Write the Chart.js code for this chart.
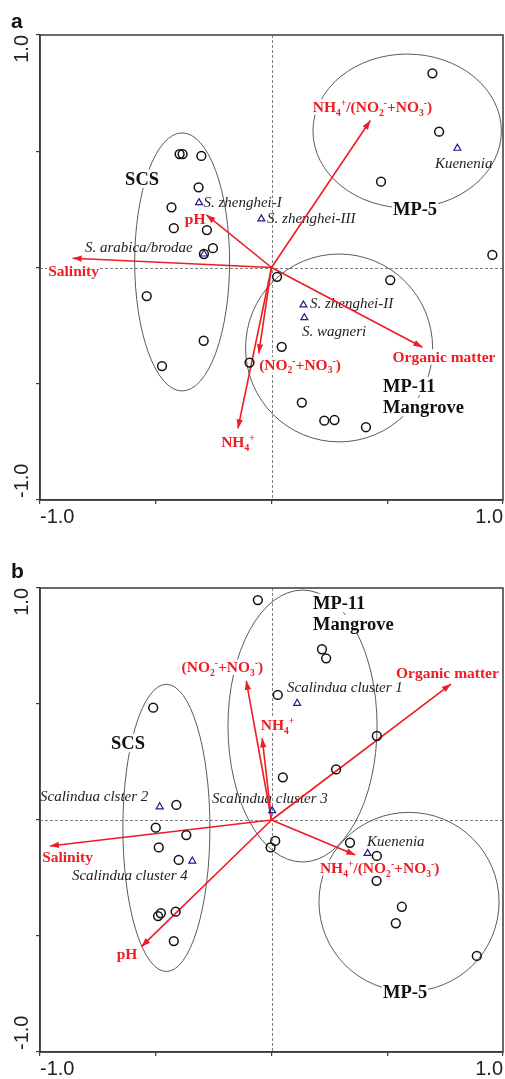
<!DOCTYPE html>
<html><head><meta charset="utf-8">
<script src="https://cdn.jsdelivr.net/npm/chart.js@4.4.0/dist/chart.umd.min.js"></script>
<style>
html,body{margin:0;padding:0;background:#fff;overflow:hidden;width:505px;height:1079px;}
#wrapA{position:absolute;left:0;top:0;width:505px;height:535px;}
#wrapB{position:absolute;left:0;top:553px;width:505px;height:534px;}
canvas{display:block;}
</style></head><body>
<div id="wrapA"><canvas id="cA" width="505" height="535"></canvas></div>
<div id="wrapB"><canvas id="cB" width="505" height="534"></canvas></div>
<script>
// ---------------- DATA ----------------
const tickLabels = ['-1.0', '1.0'];

// Panel a
const aSamples = [[0.695,0.835],[0.724,0.584],[0.473,0.369],[-0.397,0.488],[-0.384,0.488],[-0.303,0.480],[-0.315,0.345],[-0.432,0.259],[-0.422,0.169],[-0.279,0.161],[-0.253,0.083],[-0.292,0.058],[0.954,0.054],[0.024,-0.040],[0.513,-0.054],[-0.539,-0.123],[-0.293,-0.315],[-0.473,-0.424],[0.044,-0.341],[-0.095,-0.409],[0.131,-0.581],[0.228,-0.659],[0.272,-0.656],[0.408,-0.687]];
const aSpeciesNames = ['S. zhenghei-I','S. zhenghei-III','Kuenenia','S. arabica/brodae','S. zhenghei-II','S. wagneri'];
const aSpecies = [[-0.313,0.279],[-0.044,0.209],[0.803,0.513],[-0.292,0.058],[0.138,-0.161],[0.142,-0.216]];
const aEnvNames = ['NH_4^+/(NO_2^-+NO_3^-)','pH','Salinity','Organic matter','(NO_2^-+NO_3^-)','NH_4^+'];
const aEnv = [[0.427,0.632],[-0.281,0.226],[-0.859,0.040],[0.652,-0.343],[-0.055,-0.369],[-0.145,-0.692]];
const aGroups = [['SCS'],['MP-5'],['MP-11','Mangrove']];

// Panel b
const bSamples = [[-0.059,0.948],[0.218,0.736],[0.236,0.697],[0.027,0.539],[-0.511,0.484],[0.455,0.362],[0.279,0.218],[0.049,0.184],[-0.411,0.065],[-0.500,-0.033],[-0.368,-0.065],[-0.487,-0.118],[-0.401,-0.172],[0.016,-0.090],[-0.004,-0.118],[0.339,-0.098],[0.455,-0.155],[0.454,-0.262],[0.563,-0.374],[0.537,-0.445],[0.887,-0.586],[-0.478,-0.402],[-0.490,-0.414],[-0.414,-0.395],[-0.422,-0.522]];
const bSpeciesNames = ['Scalindua cluster 1','Scalindua clster 2','Scalindua cluster 3','Scalindua cluster 4','Kuenenia'];
const bSpecies = [[0.111,0.503],[-0.483,0.057],[0.003,0.040],[-0.342,-0.177],[0.415,-0.144]];
const bEnvNames = ['(NO_2^-+NO_3^-)','NH_4^+','Organic matter','Salinity','pH','NH_4^+/(NO_2^-+NO_3^-)'];
const bEnv = [[-0.109,0.600],[-0.040,0.352],[0.775,0.586],[-0.957,-0.112],[-0.562,-0.546],[0.362,-0.151]];
const bGroups = [['MP-11','Mangrove'],['SCS'],['MP-5']];

// ---------------- LAYOUT (label anchors / ellipses, in axis units) ----------------
const aLayout = {
  letter: 'a',
  ellipses: [{cx:-0.386,cy:0.024,rx:0.205,ry:0.555},{cx:0.586,cy:0.587,rx:0.407,ry:0.331},{cx:0.292,cy:-0.346,rx:0.404,ry:0.404}],
  env: [[0.436,0.690,'center'],[-0.330,0.209,'center'],[-0.855,-0.015,'center'],[0.745,-0.385,'center'],[0.123,-0.419,'center'],[-0.145,-0.751,'center']],
  species: [[-0.294,0.282],[-0.019,0.213],[0.706,0.449],[-0.806,0.088],[0.166,-0.153],[0.132,-0.273]],
  groups: [[-0.559,0.381,'center'],[0.620,0.252,'center'],[0.482,-0.510,'left']]
};
const bLayout = {
  letter: 'b',
  ellipses: [{cx:0.134,cy:0.405,rx:0.322,ry:0.586},{cx:-0.454,cy:-0.034,rx:0.188,ry:0.619},{cx:0.594,cy:-0.353,rx:0.389,ry:0.386}],
  env: [[-0.212,0.659,'center'],[0.026,0.409,'center'],[0.760,0.634,'center'],[-0.881,-0.159,'center'],[-0.624,-0.578,'center'],[0.467,-0.207,'center']],
  species: [[0.067,0.573],[-1.0,0.103],[-0.257,0.095],[-0.862,-0.237],[0.413,-0.091]],
  groups: [[0.179,0.935,'left'],[-0.620,0.332,'center'],[0.577,-0.741,'center']]
};

// ---------------- STYLE ----------------
const SERIF = '"Liberation Serif","Times New Roman",serif';
const SANS = '"Liberation Sans",Arial,sans-serif';
const RED = '#ee1c24';
const NAVY = '#1c1c8e';

function parseRich(s){
  const segs=[]; let i=0;
  while(i<s.length){
    const c=s[i];
    if((c==='_'||c==='^') && i+1<s.length){ segs.push({t:s[i+1], m: c==='_'?'sub':'sup'}); i+=2; }
    else { if(segs.length && segs[segs.length-1].m==='n') segs[segs.length-1].t+=c; else segs.push({t:c,m:'n'}); i++; }
  }
  return segs;
}
function fontFor(m,size,style){
  const s = m==='n'?size:size*0.62;
  return style+' '+s.toFixed(2)+'px '+SERIF;
}
function drawRich(ctx,text,x,y,size,style,color,align,bg){
  const segs=parseRich(text);
  let w=0;
  segs.forEach(sg=>{ctx.font=fontFor(sg.m,size,style); sg.w=ctx.measureText(sg.t).width; w+=sg.w;});
  let sx = align==='center'? x-w/2 : align==='right'? x-w : x;
  if(bg){ ctx.fillStyle='#fff'; ctx.fillRect(sx-1, y-size*0.5, w+2, size*1.0); }
  ctx.fillStyle=color; ctx.textAlign='left'; ctx.textBaseline='alphabetic';
  const base = y + size*0.33;
  segs.forEach(sg=>{
    ctx.font=fontFor(sg.m,size,style);
    let dy = sg.m==='sub'? size*0.22 : sg.m==='sup'? -size*0.38 : 0;
    ctx.fillText(sg.t, sx, base+dy);
    sx+=sg.w;
  });
}

const ordPlugin = {
  id:'ord',
  beforeDatasetsDraw(chart,args,opts){
    const {ctx, chartArea:ca, scales:{x,y}} = chart;
    const L=opts.layout;
    ctx.save();
    ctx.beginPath(); ctx.rect(ca.left,ca.top,ca.right-ca.left,ca.bottom-ca.top); ctx.clip();
    const x0=Math.round(x.getPixelForValue(0))+0.5, y0=Math.round(y.getPixelForValue(0))+0.5;
    ctx.strokeStyle='#808080'; ctx.lineWidth=1; ctx.setLineDash([3,2]);
    ctx.beginPath(); ctx.moveTo(x0,ca.top); ctx.lineTo(x0,ca.bottom); ctx.moveTo(ca.left,y0); ctx.lineTo(ca.right,y0); ctx.stroke();
    ctx.setLineDash([]);
    ctx.strokeStyle='#5a5a5a'; ctx.lineWidth=1;
    L.ellipses.forEach(e=>{
      const cx=x.getPixelForValue(e.cx), cy=y.getPixelForValue(e.cy);
      const rx=Math.abs(x.getPixelForValue(e.cx+e.rx)-cx), ry=Math.abs(y.getPixelForValue(e.cy+e.ry)-cy);
      ctx.beginPath(); ctx.ellipse(cx,cy,rx,ry,0,0,Math.PI*2); ctx.stroke();
    });
    opts.groups.forEach((g,i)=>{
      const p=L.groups[i];
      let px=x.getPixelForValue(p[0]), py=y.getPixelForValue(p[1]);
      g.forEach((line,k)=>drawRich(ctx,line,px,py+k*21,18.5,'bold','#111',p[2],true));
    });
    opts.envNames.forEach((t,i)=>{
      const p=L.env[i];
      drawRich(ctx,t,x.getPixelForValue(p[0]),y.getPixelForValue(p[1]),15.5,'bold',RED,p[2],true);
    });
    opts.speciesNames.forEach((t,i)=>{
      const p=L.species[i];
      drawRich(ctx,t,x.getPixelForValue(p[0]),y.getPixelForValue(p[1]),15,'italic','#222','left',false);
    });
    ctx.restore();
  },
  afterDatasetsDraw(chart,args,opts){
    const {ctx, chartArea:ca, scales:{x,y}} = chart;
    ctx.save();
    ctx.fillStyle=RED;
    opts.env.forEach(t=>{
      const ox=x.getPixelForValue(0), oy=y.getPixelForValue(0);
      const tx=x.getPixelForValue(t[0]), ty=y.getPixelForValue(t[1]);
      const a=Math.atan2(ty-oy,tx-ox), len=9, hw=3.2;
      ctx.beginPath();
      ctx.moveTo(tx,ty);
      ctx.lineTo(tx-len*Math.cos(a)+hw*Math.sin(a), ty-len*Math.sin(a)-hw*Math.cos(a));
      ctx.lineTo(tx-len*Math.cos(a)-hw*Math.sin(a), ty-len*Math.sin(a)+hw*Math.cos(a));
      ctx.closePath(); ctx.fill();
    });
    ctx.strokeStyle='#3a3a3a'; ctx.lineWidth=1.5;
    ctx.strokeRect(ca.left,ca.top,ca.right-ca.left,ca.bottom-ca.top);
    ctx.restore();
  },
  afterDraw(chart,args,opts){
    const {ctx, scales:{y}} = chart;
    ctx.save();
    ctx.fillStyle='#222'; ctx.font='20px '+SANS; ctx.textBaseline='middle';
    let py=y.getPixelForValue(1);
    ctx.save(); ctx.translate(22,py); ctx.rotate(-Math.PI/2); ctx.textAlign='right'; ctx.fillText(tickLabels[1],0,0); ctx.restore();
    py=y.getPixelForValue(-1);
    ctx.save(); ctx.translate(22,py-2); ctx.rotate(-Math.PI/2); ctx.textAlign='left'; ctx.fillText(tickLabels[0],0,0); ctx.restore();
    ctx.fillStyle='#111'; ctx.font='bold 21px '+SANS; ctx.textAlign='left'; ctx.textBaseline='alphabetic';
    ctx.fillText(opts.layout.letter, 11, opts.letterY);
    ctx.restore();
  }
};

function makeChart(id, samples, species, speciesNames, env, envNames, groups, layout, letterY){
  const datasets = [];
  datasets.push({label:'samples', data:samples.map(p=>({x:p[0],y:p[1]})), pointStyle:'circle', pointRadius:4.4, pointBorderWidth:1.5, borderColor:'#111', backgroundColor:'rgba(0,0,0,0)', showLine:false, pointHoverRadius:4.4});
  datasets.push({label:'species', data:species.map(p=>({x:p[0],y:p[1]})), pointStyle:'triangle', pointRadius:4, pointBorderWidth:1.2, borderColor:NAVY, backgroundColor:'rgba(0,0,0,0)', showLine:false});
  env.forEach((t,i)=>{
    datasets.push({type:'line', label:envNames[i], data:[{x:0,y:0},{x:t[0],y:t[1]}], borderColor:RED, borderWidth:1.6, pointRadius:0, fill:false, tension:0, showLine:true});
  });
  const axisCommon = {
    type:'linear', min:-1, max:1,
    grid:{drawOnChartArea:false, drawTicks:true, tickLength:4, color:'#3a3a3a', lineWidth:1.2},
    border:{display:true, color:'#3a3a3a', width:1.5}
  };
  return new Chart(document.getElementById(id), {
    type:'scatter',
    data:{datasets},
    options:{
      responsive:false, animation:false, devicePixelRatio:1,
      layout:{autoPadding:false, padding:{top:35,right:2,left:0,bottom:0}},
      plugins:{legend:{display:false}, tooltip:{enabled:false},
        ord:{layout, env, envNames, speciesNames, groups, letterY}},
      scales:{
        x:Object.assign({}, axisCommon, {position:'bottom',
          ticks:{stepSize:0.5, autoSkip:false, maxRotation:0, minRotation:0, align:'inner', padding:1, color:'#222', font:{family:SANS, size:20},
            callback:v=> v===-1?tickLabels[0]:(v===1?tickLabels[1]:'')},
          afterFit:s=>{s.height=35; s.paddingLeft=0; s.paddingRight=0;}}),
        y:Object.assign({}, axisCommon, {position:'left',
          ticks:{stepSize:0.5, display:false},
          afterFit:s=>{s.width=40; s.paddingTop=0; s.paddingBottom=0;}})
      }
    },
    plugins:[ordPlugin]
  });
}
makeChart('cA', aSamples, aSpecies, aSpeciesNames, aEnv, aEnvNames, aGroups, aLayout, 28);
makeChart('cB', bSamples, bSpecies, bSpeciesNames, bEnv, bEnvNames, bGroups, bLayout, 25);
</script>
</body></html>
